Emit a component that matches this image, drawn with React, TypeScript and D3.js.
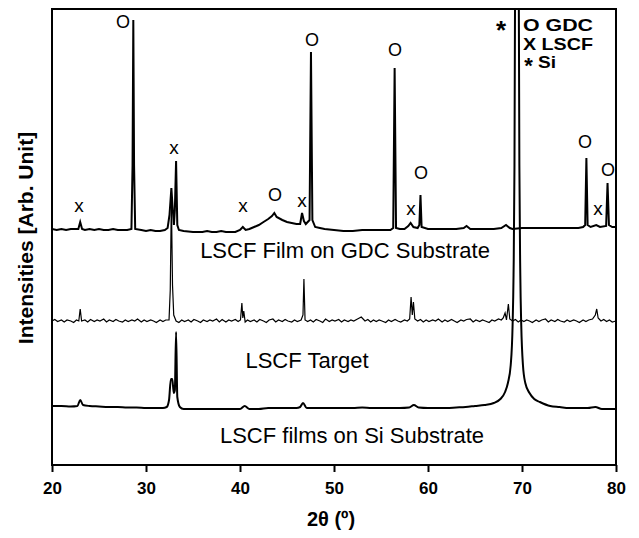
import React, { useEffect, useRef } from "react";
import * as d3 from "d3";

// 2-theta (deg) vs intensity (arb. unit)
const FILM_ON_GDC: [number, number][] = [
  [20, 236], [20.5, 235], [21, 236], [21.5, 235], [22, 236], [22.5, 236], [22.8, 236], [23.0, 243], [23.2, 236],
  [23.5, 235], [24, 236], [24.5, 235], [25, 236], [25.5, 235], [26, 235], [26.5, 236], [27, 235], [27.5, 235],
  [28, 235], [28.45, 236], [28.57, 300], [28.65, 445], [28.73, 300], [28.85, 236], [29.5, 235], [30, 234],
  [30.5, 235], [31, 234], [31.5, 234], [32, 235], [32.3, 237], [32.5, 250], [32.7, 277], [32.85, 255],
  [32.97, 240], [33.07, 255], [33.2, 304], [33.33, 240], [33.5, 235], [34, 234], [35, 233], [35.5, 233],
  [36, 233], [36.5, 234], [37, 233], [37.5, 233], [38, 234], [38.5, 233], [39, 233], [39.5, 233], [40, 235],
  [40.3, 238], [40.6, 235], [41, 236], [41.5, 238], [42, 240], [42.5, 243], [43, 246], [43.4, 249],
  [43.65, 252], [43.9, 248], [44.5, 245], [45, 243], [45.5, 242], [46, 241], [46.4, 241], [46.6, 252],
  [46.8, 244], [47.0, 241], [47.4, 245], [47.55, 413], [47.7, 245], [48.0, 238], [48.5, 237], [49, 236],
  [50, 235], [51, 234], [52, 234], [53, 235], [54, 235], [55, 235], [56, 235], [56.3, 237], [56.45, 397],
  [56.6, 237], [57, 236], [57.5, 236], [57.9, 239], [58.15, 242], [58.45, 238], [58.9, 237], [59.08, 240],
  [59.2, 270], [59.32, 238], [60, 236], [61, 236], [62, 236], [63, 236], [63.8, 237], [64.1, 239],
  [64.5, 236], [65, 236], [66, 236], [67, 236], [67.8, 237], [68.3, 240], [68.7, 237], [69, 236], [70, 237],
  [71, 237], [72, 237], [73, 237], [74, 237], [75, 237], [76, 237], [76.5, 238], [76.72, 240], [76.85, 307],
  [76.98, 240], [77.3, 238], [77.9, 240], [78.3, 238], [78.95, 239], [79.1, 282], [79.25, 240], [79.6, 238],
  [80, 238],
];

const TARGET: [number, number][] = [
  [20, 144], [20.3, 145.5], [20.6, 143.5], [21, 145], [21.3, 143], [21.6, 145], [22, 144], [22.3, 142.5],
  [22.6, 145], [22.85, 144], [23.0, 156], [23.15, 144], [23.5, 145], [23.8, 143], [24.1, 145.5], [24.5, 143.5],
  [24.8, 145], [25.1, 144], [25.5, 146], [25.8, 143], [26.1, 145], [26.5, 143.5], [26.8, 145.5], [27.1, 144],
  [27.5, 143], [27.8, 145], [28.1, 143.5], [28.5, 145], [28.8, 144], [29.1, 146], [29.5, 143], [29.8, 145],
  [30.1, 143.5], [30.5, 145], [30.8, 144], [31.1, 142.5], [31.5, 145], [31.8, 143.5], [32.1, 145],
  [32.45, 145], [32.58, 175], [32.7, 265], [32.82, 180], [32.95, 150], [33.2, 144], [33.5, 142.5],
  [33.8, 145], [34.1, 143.5], [34.5, 145], [34.8, 143], [35.1, 145.5], [35.5, 144], [35.8, 142.5],
  [36.1, 145], [36.5, 143.5], [36.8, 145], [37.1, 144], [37.5, 146], [37.8, 143], [38.1, 145.5],
  [38.5, 143], [38.8, 145], [39.1, 144], [39.5, 145.5], [39.8, 143.5], [40.05, 145], [40.2, 162],
  [40.3, 147], [40.4, 154], [40.55, 143], [40.8, 145], [41.1, 143.5], [41.5, 145], [41.8, 143], [42.1, 145.5],
  [42.5, 144], [42.8, 142.5], [43.1, 145], [43.5, 146], [43.8, 143], [44.1, 145], [44.5, 143.5], [44.8, 145.5],
  [45.1, 144], [45.5, 143], [45.8, 145], [46.1, 143.5], [46.5, 145], [46.7, 150], [46.8, 186], [46.92, 145],
  [47.2, 143.5], [47.5, 145], [47.8, 143], [48.1, 145.5], [48.5, 144], [48.8, 142.5], [49.1, 146],
  [49.5, 143.5], [49.8, 145], [50.1, 144], [50.5, 145.5], [50.8, 143], [51.1, 145], [51.5, 143.5],
  [51.8, 145], [52.1, 144], [52.5, 146], [52.9, 148], [53.3, 144], [53.6, 145.5], [53.9, 143], [54.2, 145],
  [54.5, 143.5], [54.8, 145], [55.1, 144], [55.5, 142.5], [55.8, 145], [56.1, 143.5], [56.5, 145.5],
  [56.8, 144], [57.1, 143], [57.5, 145], [57.8, 144], [58.05, 146], [58.2, 168], [58.33, 150], [58.45, 163],
  [58.6, 146], [58.9, 144], [59.2, 145.5], [59.5, 143], [59.8, 145], [60.1, 143.5], [60.5, 145], [60.8, 144],
  [61.1, 146], [61.5, 143], [61.8, 145], [62.1, 143.5], [62.5, 145.5], [62.8, 144], [63.1, 142.5],
  [63.5, 145], [63.8, 144], [64.1, 145.5], [64.5, 146], [64.8, 143], [65.1, 145], [65.5, 143.5], [65.8, 145],
  [66.1, 144], [66.5, 142.5], [66.8, 145], [67.1, 144], [67.5, 146], [67.8, 145], [68.0, 147], [68.2, 152],
  [68.35, 145], [68.55, 161], [68.7, 146], [69, 144], [69.3, 145.5], [69.6, 143], [69.9, 145], [70.2, 143.5],
  [70.5, 145], [70.8, 144], [71.1, 142.5], [71.5, 145], [71.8, 143.5], [72.1, 145], [72.5, 146], [72.8, 143],
  [73.1, 145], [73.5, 143.5], [73.8, 145.5], [74.1, 144], [74.5, 143], [74.8, 145], [75.1, 143.5],
  [75.5, 145], [75.8, 144], [76.1, 142.5], [76.5, 145], [76.8, 143.5], [77.1, 145], [77.5, 146], [77.8, 150],
  [77.95, 156], [78.1, 147], [78.4, 144], [78.7, 145.5], [79, 143.5], [79.3, 145], [79.6, 143], [80, 144],
];

const FILM_ON_SI: [number, number][] = [
  [20, 59], [21, 59], [22, 58.5], [22.7, 59], [23.0, 65], [23.3, 60], [24, 59], [25, 58.5], [26, 58],
  [27, 58], [28, 57.5], [29, 57.5], [30, 57], [31, 57], [31.8, 57], [32.2, 58], [32.45, 65], [32.65, 86],
  [32.8, 86], [32.95, 72], [33.07, 75], [33.2, 133], [33.33, 68], [33.6, 58], [34, 56], [35, 56], [36, 56],
  [37, 56], [38, 56], [39, 56], [40, 56], [40.5, 59], [41, 56], [42, 56], [43, 57], [44, 57], [45, 57],
  [46, 57], [46.4, 58], [46.7, 62], [47.1, 57], [48, 57], [49, 57], [50, 57], [51, 57], [52, 57],
  [53, 57.5], [54, 57], [55, 57], [56, 57], [57, 57], [58, 57.5], [58.5, 60], [59, 57.5], [60, 57], [61, 57],
  [62, 57], [63, 57.5], [64, 58], [65, 59], [66, 60], [67, 62], [67.7, 66], [68.2, 73], [68.5, 82],
  [68.8, 100], [69.0, 140], [69.1, 190], [69.2, 300], [69.26, 470], [69.45, 1500], [69.66, 470],
  [69.72, 300], [69.82, 190], [69.92, 140], [70.1, 100], [70.35, 82], [70.8, 72], [71.3, 66], [71.9, 63],
  [73, 59], [74, 58], [75, 57], [76, 57], [77, 57], [77.8, 58], [78.5, 56], [79, 56], [80, 56],
];

// peak markers: symbol, 2-theta, intensity of the label centre
const MARK_SYMBOLS = ["x", "O", "x", "x", "O", "x", "O", "O", "x", "O", "O", "x", "O"];
const MARK_THETA = [22.87, 27.55, 32.98, 40.32, 43.72, 46.6, 47.66, 56.49, 58.19, 59.26, 76.7, 78.09, 79.15];
const MARK_LEVEL = [258, 443, 316, 258, 270, 263, 425, 415, 255, 292, 323, 255, 295];

const TRACE_LABELS = ["LSCF Film on GDC Substrate", "LSCF Target", "LSCF films on Si Substrate"];
const LEGEND = ["O GDC", "X LSCF", "Si"];
const X_TICKS = [20, 30, 40, 50, 60, 70, 80];

const FONT = "'Liberation Sans', Arial, Helvetica, sans-serif";

export default function App() {
  const ref = useRef<SVGSVGElement>(null);

  useEffect(() => {
    const svg = d3.select(ref.current);
    svg.selectAll("*").remove();

    const margin = { top: 9, right: 23, bottom: 73, left: 52 };
    const W = 639, H = 538;
    const w = W - margin.left - margin.right;
    const h = H - margin.top - margin.bottom;

    const x = d3.scaleLinear().domain([20, 80]).range([margin.left, margin.left + w]);
    const y = d3.scaleLinear().domain([0, 456]).range([margin.top + h, margin.top]);

    svg.append("defs").append("clipPath").attr("id", "plotClip")
      .append("rect")
      .attr("x", margin.left).attr("y", margin.top)
      .attr("width", w).attr("height", h);

    const line = d3.line<[number, number]>()
      .x(d => x(d[0]))
      .y(d => y(d[1]));

    const traces = svg.append("g").attr("clip-path", "url(#plotClip)");
    traces.append("path")
      .attr("d", line.curve(d3.curveMonotoneX)(FILM_ON_SI))
      .attr("fill", "none").attr("stroke", "#000").attr("stroke-width", 2);
    traces.append("path")
      .attr("d", line.curve(d3.curveLinear)(TARGET))
      .attr("fill", "none").attr("stroke", "#000").attr("stroke-width", 1.2);
    traces.append("path")
      .attr("d", line.curve(d3.curveLinear)(FILM_ON_GDC))
      .attr("fill", "none").attr("stroke", "#000").attr("stroke-width", 2);

    // frame
    svg.append("rect")
      .attr("x", margin.left).attr("y", margin.top)
      .attr("width", w).attr("height", h)
      .attr("fill", "none").attr("stroke", "#000").attr("stroke-width", 2);

    // x axis
    const xAxis = svg.append("g")
      .attr("transform", `translate(0, ${margin.top + h})`)
      .call(d3.axisBottom(x).tickValues(X_TICKS).tickSize(7).tickPadding(10).tickFormat(d3.format("d")));
    xAxis.select(".domain").remove();
    xAxis.selectAll("line").attr("stroke-width", 2);
    xAxis.selectAll("text")
      .style("font-family", FONT).style("font-size", "17px").style("font-weight", "bold");

    // axis titles
    svg.append("text")
      .attr("x", 331).attr("y", 526)
      .attr("text-anchor", "middle")
      .style("font-family", FONT).style("font-size", "20px").style("font-weight", "bold")
      .text("2θ (º)");

    svg.append("text")
      .attr("transform", "rotate(-90)")
      .attr("x", -238).attr("y", 33)
      .attr("text-anchor", "middle")
      .style("font-family", FONT).style("font-size", "21px").style("font-weight", "bold")
      .text("Intensities [Arb. Unit]");

    // trace labels
    const labelPos = [[345, 258], [307, 368], [352, 443]];
    svg.selectAll(".tlabel").data(TRACE_LABELS).join("text")
      .attr("class", "tlabel")
      .attr("x", (d, i) => labelPos[i][0]).attr("y", (d, i) => labelPos[i][1])
      .attr("text-anchor", "middle")
      .style("font-family", FONT).style("font-size", "22px")
      .text(d => d);

    // peak markers
    svg.selectAll(".mark").data(MARK_SYMBOLS).join("text")
      .attr("class", "mark")
      .attr("x", (d, i) => x(MARK_THETA[i]))
      .attr("y", (d, i) => y(MARK_LEVEL[i]))
      .attr("dy", d => (d === "x" ? "0.27em" : "0.36em"))
      .attr("text-anchor", "middle")
      .style("font-family", FONT)
      .style("font-size", d => (d === "x" ? "19px" : "18px"))
      .text(d => d);

    // Si marker
    svg.append("text")
      .attr("x", x(67.77)).attr("y", y(440))
      .attr("dy", "0.55em")
      .attr("text-anchor", "middle")
      .style("font-family", FONT).style("font-size", "26px").style("font-weight", "bold")
      .text("*");

    // legend
    const legendWidth = [70, 70, 18];
    const legend = svg.append("g").attr("transform", "translate(523, 0)");
    legend.selectAll("text.leg").data(LEGEND).join("text")
      .attr("class", "leg")
      .attr("x", (d, i) => (i === 2 ? 15 : 0))
      .attr("y", (d, i) => 31 + i * 18.5)
      .attr("textLength", (d, i) => legendWidth[i])
      .attr("lengthAdjust", "spacingAndGlyphs")
      .style("font-family", FONT).style("font-size", "16.5px").style("font-weight", "bold")
      .text(d => d);
    legend.append("text")
      .attr("x", 5.5).attr("y", 73)
      .attr("text-anchor", "middle")
      .style("font-family", FONT).style("font-size", "22px").style("font-weight", "bold")
      .text("*");
  }, []);

  return (
    <svg ref={ref} width={639} height={538}
      style={{ position: "absolute", left: 0, top: 0, background: "#fff" }} />
  );
}
